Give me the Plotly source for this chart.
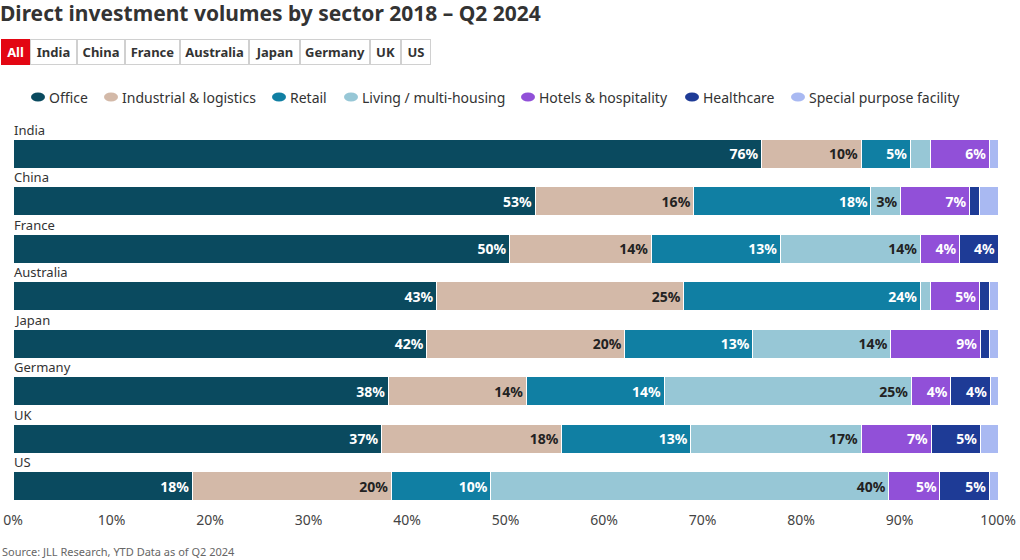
import plotly.graph_objects as go

countries = ["India", "China", "France", "Australia", "Japan", "Germany", "UK", "US"]
sectors = ["Office", "Industrial & logistics", "Retail", "Living / multi-housing",
           "Hotels & hospitality", "Healthcare", "Special purpose facility"]

office      = [76.0, 53.0, 50.4, 43.0, 42.0, 38.1, 37.4, 18.2]
industrial  = [10.1, 16.1, 14.4, 25.1, 20.1, 14.0, 18.3, 20.2]
retail      = [5.0, 18.0, 13.1, 24.0, 13.0, 14.0, 13.1, 10.1]
living      = [2.0, 3.0, 14.2, 1.0, 14.0, 25.1, 17.3, 40.4]
hotels      = [6.0, 7.0, 4.0, 5.0, 9.1, 4.0, 7.1, 5.2]
healthcare  = [0.0, 1.0, 3.9, 1.0, 0.9, 4.0, 5.0, 5.0]
special     = [0.9, 1.9, 0.0, 0.9, 0.9, 0.9, 1.9, 0.9]

series = [office, industrial, retail, living, hotels, healthcare, special]
colors = ["#0a4a5f", "#d3b9a8", "#107fa3", "#97c7d6", "#9150d8", "#1e3b96", "#a9b9f2"]
text_colors = ["#ffffff", "#222222", "#ffffff", "#222222", "#ffffff", "#ffffff", "#222222"]

tick_vals = [0, 10, 20, 30, 40, 50, 60, 70, 80, 90, 100]
tick_text = [f"{v}%" for v in tick_vals]

buttons = ["All", "India", "China", "France", "Australia", "Japan", "Germany", "UK", "US"]
button_widths = [29, 47, 48, 55, 69, 51, 70, 31, 30]

# legend layout (pixel x of symbol start)
legend_x = [31, 104, 272, 344, 521, 685, 791]

FONT = "Noto Sans"
W, H = 1020, 560
ML, MR, MT, MB = 13, 22, 130, 50
PW, PH = W - ML - MR, H - MT - MB


def px_x(p):
    return (p - ML) / PW


def px_y(p):
    return (H - MB - p) / PH


fig = go.Figure()
for name, vals, col, tcol in zip(sectors, series, colors, text_colors):
    fig.add_trace(go.Bar(
        y=countries, x=vals, name=name, orientation="h",
        marker=dict(color=col, line=dict(color="white", width=1)),
        text=[f"<b>{round(v)}%</b>" if v >= 2.5 else "" for v in vals],
        textposition="inside", insidetextanchor="end",
        textfont=dict(color=tcol, size=14, family=FONT),
        constraintext="none",
        hovertemplate="%{y}<br>" + name + ": %{x:.0f}%<extra></extra>",
    ))

annotations = []
shapes = []
for c in countries:
    annotations.append(dict(
        x=0, y=c, xref="x", yref="y", text=c, showarrow=False,
        xanchor="left", yanchor="middle", yshift=24, xshift=-1,
        font=dict(size=13, color="#333333", family=FONT)))

# filter buttons drawn as boxed labels
left = 1
for i, (b, w) in enumerate(zip(buttons, button_widths)):
    active = i == 0
    annotations.append(dict(
        x=px_x(left), y=px_y(52), xref="paper", yref="paper",
        xanchor="left", yanchor="middle", showarrow=False,
        text=f"<b>{b}</b>", width=w - 2, height=24, borderpad=0,
        bgcolor="#e30613" if active else "#ffffff",
        bordercolor="#e30613" if active else "#d0d0d0", borderwidth=1,
        font=dict(size=13, color="#ffffff" if active else "#333333", family=FONT)))
    left += w

# legend drawn as pill symbols + labels
for name, col, lx in zip(sectors, colors, legend_x):
    shapes.append(dict(
        type="circle", xref="paper", yref="paper",
        xsizemode="pixel", ysizemode="pixel",
        xanchor=px_x(lx), yanchor=px_y(97),
        x0=0, x1=14, y0=-4.5, y1=4.5,
        fillcolor=col, line=dict(width=0)))
    annotations.append(dict(
        x=px_x(lx + 16), y=px_y(97), xref="paper", yref="paper",
        xanchor="left", yanchor="middle", showarrow=False, text=name,
        font=dict(size=14, color="#333333", family=FONT)))

annotations.append(dict(
    x=px_x(0), y=px_y(551), xref="paper", yref="paper", xanchor="left",
    yanchor="middle", showarrow=False,
    text="Source: JLL Research, YTD Data as of Q2 2024",
    font=dict(size=11, color="#666666", family=FONT)))

fig.update_layout(
    width=W, height=H,
    margin=dict(l=ML, r=MR, t=MT, b=MB, autoexpand=False),
    barmode="stack", bargap=0.39,
    plot_bgcolor="white", paper_bgcolor="white",
    font=dict(family=FONT, color="#333333"),
    showlegend=False,
    title=dict(text="<b>Direct investment volumes by sector 2018 – Q2 2024</b>",
               x=0, xref="container", xanchor="left",
               y=1 - 14 / H, yanchor="middle",
               font=dict(size=21, color="#333333", family=FONT)),
    xaxis=dict(range=[0, 100], tickvals=tick_vals, ticktext=tick_text,
               showgrid=False, zeroline=False, showline=False, ticks="",
               automargin=False,
               tickfont=dict(size=14, color="#444444", family=FONT), fixedrange=True),
    yaxis=dict(categoryorder="array", categoryarray=countries,
               range=[len(countries) - 0.5, -0.5], autorange=False,
               automargin=False,
               showticklabels=False, showgrid=False, zeroline=False, fixedrange=True),
    annotations=annotations,
    shapes=shapes,
    uniformtext=dict(minsize=13, mode="show"),
)

fig.write_html("out.html")
